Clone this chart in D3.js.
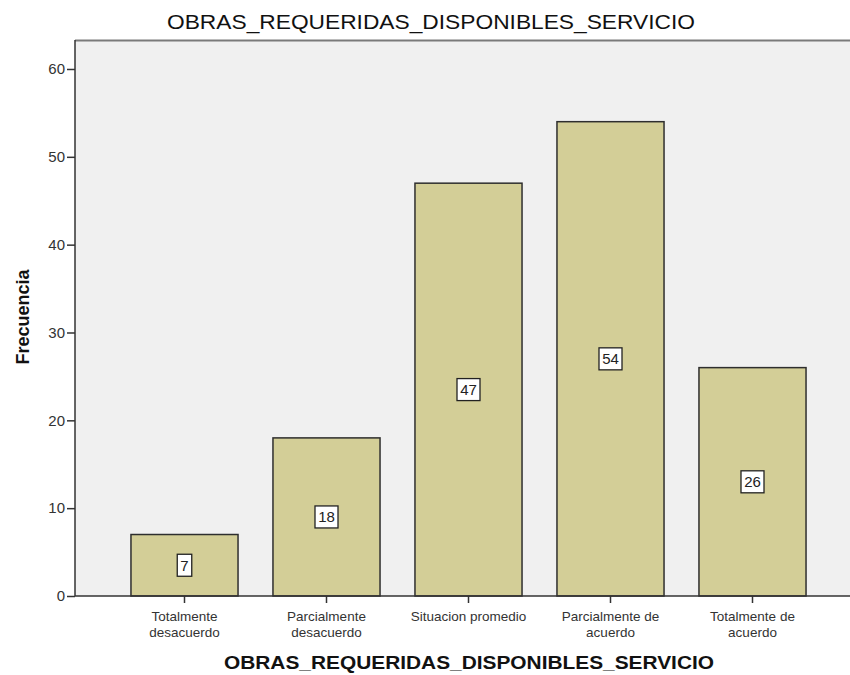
<!DOCTYPE html>
<html>
<head>
<meta charset="utf-8">
<script src="https://cdn.jsdelivr.net/npm/d3@7"></script>
<style>
  body { margin: 0; background: #fff; }
  svg { display: block; font-family: "Liberation Sans", Arial, sans-serif; }
</style>
</head>
<body>
<div id="chart"></div>
<script>
// Data_____________________________________________________________________
const categories = [
    ['Totalmente', 'desacuerdo'],
    ['Parcialmente', 'desacuerdo'],
    ['Situacion promedio'],
    ['Parcialmente de', 'acuerdo'],
    ['Totalmente de', 'acuerdo'],
];
const frequencies = [7, 18, 47, 54, 26];
const yTicks = [0, 10, 20, 30, 40, 50, 60];
const title = 'OBRAS_REQUERIDAS_DISPONIBLES_SERVICIO';

// Layout___________________________________________________________________
const width = 850;
const height = 675;
const plotLeft = 75;
const plotTop = 40;
const plotBottom = 596;

const svg = d3.select('#chart')
    .append('svg')
    .attr('width', width)
    .attr('height', height);

const x = d3.scaleBand()
    .domain(d3.range(categories.length))
    .range([113.5, 823.5])
    .paddingInner(0.246)
    .paddingOuter(0.123);

const y = d3.scaleLinear()
    .domain([0, 63.3])
    .range([plotBottom, plotTop]);

// Plot background
svg.append('rect')
    .attr('x', plotLeft)
    .attr('y', plotTop)
    .attr('width', width - plotLeft + 5)
    .attr('height', plotBottom - plotTop)
    .attr('fill', '#f0f0f0');

svg.append('line')
    .attr('x1', plotLeft).attr('x2', width)
    .attr('y1', plotTop + 0.5).attr('y2', plotTop + 0.5)
    .attr('stroke', '#7a7a7a')
    .attr('stroke-width', 2);

// Bars
svg.append('g')
    .selectAll('rect')
    .data(frequencies)
    .enter()
    .append('rect')
    .attr('x', (d, i) => x(i))
    .attr('y', d => y(d))
    .attr('width', x.bandwidth())
    .attr('height', d => plotBottom - y(d))
    .attr('fill', '#d3ce97')
    .attr('stroke', '#2e2e2e')
    .attr('stroke-width', 1.5);

// Value labels
const boxW = d => String(d).length * 8.5 + 6;
const labels = svg.append('g')
    .selectAll('g')
    .data(frequencies)
    .enter()
    .append('g')
    .attr('transform', (d, i) => `translate(${x(i) + x.bandwidth() / 2}, ${(y(d) + plotBottom) / 2})`);
labels.append('rect')
    .attr('x', d => -boxW(d) / 2)
    .attr('y', -11)
    .attr('width', boxW)
    .attr('height', 22)
    .attr('fill', '#fff')
    .attr('stroke', '#222')
    .attr('stroke-width', 1.3);
labels.append('text')
    .attr('text-anchor', 'middle')
    .attr('dy', '0.36em')
    .attr('font-size', 15)
    .attr('fill', '#222')
    .text(d => d);

// Y axis
const yAxis = d3.axisLeft(y)
    .tickValues(yTicks)
    .tickSize(8)
    .tickPadding(2);
const yg = svg.append('g')
    .attr('transform', `translate(${plotLeft}, 0)`)
    .call(yAxis);
yg.select('.domain').remove();
yg.selectAll('line').attr('stroke', '#333').attr('stroke-width', 1.5);
yg.selectAll('text').attr('font-size', 15).attr('fill', '#333')
    .attr('font-family', '"Liberation Sans", Arial, sans-serif');

svg.append('line')
    .attr('x1', plotLeft).attr('x2', plotLeft)
    .attr('y1', plotTop).attr('y2', plotBottom)
    .attr('stroke', '#333')
    .attr('stroke-width', 1.5);

// X axis
svg.append('line')
    .attr('x1', plotLeft).attr('x2', width)
    .attr('y1', plotBottom).attr('y2', plotBottom)
    .attr('stroke', '#333')
    .attr('stroke-width', 1.5);

const xg = svg.append('g')
    .selectAll('g')
    .data(categories)
    .enter()
    .append('g')
    .attr('transform', (d, i) => `translate(${x(i) + x.bandwidth() / 2}, ${plotBottom})`);
xg.append('line')
    .attr('y1', 0).attr('y2', 7)
    .attr('stroke', '#333')
    .attr('stroke-width', 1.5);
xg.append('text')
    .attr('text-anchor', 'middle')
    .attr('font-size', 13.5)
    .attr('fill', '#333')
    .selectAll('tspan')
    .data(d => d)
    .enter()
    .append('tspan')
    .attr('x', 0)
    .attr('y', (d, i) => 25 + i * 15.5)
    .text(d => d);

// Titles
svg.append('text')
    .attr('x', 431)
    .attr('y', 29)
    .attr('text-anchor', 'middle')
    .attr('font-size', 21)
    .attr('textLength', 528)
    .attr('lengthAdjust', 'spacingAndGlyphs')
    .attr('fill', '#111')
    .text(title);

svg.append('text')
    .attr('x', 469)
    .attr('y', 669)
    .attr('text-anchor', 'middle')
    .attr('font-size', 18)
    .attr('font-weight', 'bold')
    .attr('textLength', 490)
    .attr('lengthAdjust', 'spacingAndGlyphs')
    .attr('fill', '#111')
    .text(title);

svg.append('text')
    .attr('transform', 'translate(29, 317) rotate(-90)')
    .attr('text-anchor', 'middle')
    .attr('font-size', 18)
    .attr('font-weight', 'bold')
    .attr('fill', '#111')
    .text('Frecuencia');
</script>
</body>
</html>
